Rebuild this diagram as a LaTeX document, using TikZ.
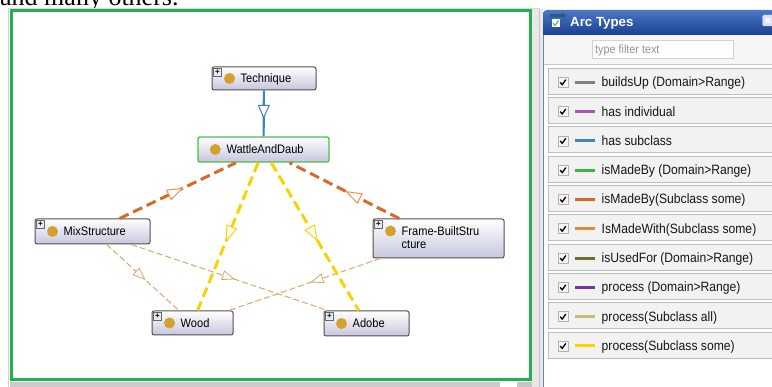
\documentclass[tikz,border=0pt]{standalone}
\usepackage{fontspec}
\setmainfont{Liberation Serif}
\newfontfamily\uifont[FakeStretch=0.9]{Liberation Sans}
\newfontfamily\uititle{Liberation Sans}
\usetikzlibrary{arrows.meta,decorations.markings,calc}
\definecolor{grn}{HTML}{22B14C}
\definecolor{nodebot}{HTML}{C6C6DE}
\definecolor{nodeborder}{HTML}{505050}
\definecolor{wadgreen}{HTML}{4DBE4D}
\definecolor{gold}{HTML}{D4A12E}
\definecolor{plusfill}{HTML}{E6ECF6}
\definecolor{cblue}{HTML}{3F80C0}
\definecolor{corange}{HTML}{D8692A}
\definecolor{corangetip}{HTML}{E8925A}
\definecolor{cyellow}{HTML}{F9D300}
\definecolor{cthin}{HTML}{E0A468}
\definecolor{cgrey}{HTML}{808080}
\definecolor{cmag}{HTML}{A855B5}
\definecolor{cblue2}{HTML}{4682BE}
\definecolor{cgreen}{HTML}{3DB83D}
\definecolor{corange2}{HTML}{D76428}
\definecolor{cmadewith}{HTML}{E08A3C}
\definecolor{colive}{HTML}{6E6E32}
\definecolor{cpurple}{HTML}{7337A0}
\definecolor{ckhaki}{HTML}{C3BE78}
\definecolor{cyel2}{HTML}{FFD200}
\definecolor{itemfill}{HTML}{F2F2F2}
\definecolor{itemborder}{HTML}{BDBDBD}
\definecolor{hdrtop}{HTML}{4A78C6}
\definecolor{hdrbot}{HTML}{1C3F90}
\definecolor{panelline}{HTML}{6F84B2}
\definecolor{textdark}{HTML}{161616}
\definecolor{iconteal}{HTML}{2A5A7A}
\tikzset{
  subtip/.tip={Triangle[length=14pt,width=12pt,line width=1pt,color=cblue,fill=white]},
  ortip/.tip={Triangle[length=17pt,width=11.5pt,line width=1pt,color=corangetip,fill=white]},
  yeltip/.tip={Triangle[length=17pt,width=11.5pt,line width=1pt,color=cyellow,fill=white]},
  thintip/.tip={Triangle[length=13pt,width=10pt,line width=0.8pt,color=cthin,fill=white]},
  headat/.style 2 args={postaction={decorate},decoration={markings,mark=at position #1 with {\arrow{#2}}}},
  cls/.style={draw=nodeborder,line width=1pt,rounded corners=2pt,top color=white,bottom color=nodebot,inner sep=0pt},
  goldc/.style={circle,fill=gold,minimum size=11pt,inner sep=0pt},
  lbl/.style={anchor=base west,inner sep=0pt,font=\uifont\fontsize{12.3}{14}\selectfont,text=black},
  plusbox/.style={draw=gray!80!black,fill=plusfill,minimum size=8pt,inner sep=0pt,line width=0.5pt,font=\uititle\bfseries\fontsize{8}{8}\selectfont},
  subcl/.style={draw=cblue,line width=2.2pt},
  orth/.style={draw=corange,line width=3pt,dash pattern=on 10pt off 5pt},
  yel/.style={draw=cyellow,line width=3pt,dash pattern=on 10pt off 5pt},
  thinor/.style={draw=cthin,line width=1pt,dash pattern=on 6pt off 3pt},
  itembox/.style={fill=itemfill,draw=itemborder,line width=0.8pt,minimum width=230pt,minimum height=26pt,inner sep=0pt,anchor=west},
  chk/.style={fill=itemfill!70!white,draw=gray!60,line width=0.6pt,minimum size=10pt,inner sep=0pt},
  itemtxt/.style={anchor=base west,inner sep=0pt,font=\uifont\fontsize{13.5}{15}\selectfont,text=textdark}
}
\newcommand\clsinside[3]{%
  \node[goldc] (#1-dot) at ($(#1.west)+(18,0)$) {};
  \node[lbl] (#1-lbl) at ($(#1.west)+(29,4.2)$) {#3};
  \ifnum#2=1 \node[plusbox] (#1-plus) at ($(#1.north west)+(6,6)$) {+};\fi
}
\begin{document}
\begin{tikzpicture}[x=1pt,y=-1pt]
\useasboundingbox (0,0) rectangle (772,387);
\clip (0,0) rectangle (772,387);
\fill[white] (0,0) rectangle (772,387);
% intro text
\node[anchor=base west,inner sep=0pt] (intro) at (0,5.5) {\fontsize{26}{26}\selectfont and many others.};
% left panel frame
\fill[gray!18] (532,9) rectangle (543,387);
\draw[gray!45,line width=0.8pt] (539,9) -- (539,387);
\draw[gray!35,line width=0.8pt] (8,9) -- (8,387);
\draw[gray!30,line width=0.8pt] (8,8.5) -- (540,8.5);
\fill[gray!40] (10,382) rectangle (500,387);
\fill[gray!45] (517,382) rectangle (532,387);
\draw[grn,line width=3pt] (11,10.5) rectangle (530.3,380);
% right panel
\draw[panelline,line width=1.5pt] (543.5,12) -- (543.5,387);
\fill[gray!8] (544.3,35) rectangle (772,64);
\draw[gray!45,line width=0.8pt] (544.3,64) -- (772,64);
\shade[top color=hdrtop,bottom color=hdrbot] (543,35) [rounded corners=4pt] |- (775,10) [sharp corners] -- (775,35) -- cycle;
\fill[white] (551.5,19) rectangle (559.5,27.5);
\draw[cgreen,line width=1pt] (553,23) -- (555,25.5) -- (558.5,20.5);
\draw[iconteal,line width=2.2pt,-{Triangle[length=4pt,width=6pt]}] (550,15.5) -- (566,15.5);
\node[anchor=base west,inner sep=0pt,text=white,font=\uititle\bfseries\fontsize{13.3}{15}\selectfont] (title) at (570,27) {Arc Types};
\node[fill=gray!35!blue!15,draw=white!80!blue,rounded corners=1.5pt,minimum size=11pt,inner sep=0pt] (close) at (768,20.5) {};
\draw[white,line width=1.2pt] ($(close.center)+(-2.5,-2.5)$) -- ($(close.center)+(2.5,2.5)$);
\draw[white,line width=1.2pt] ($(close.center)+(-2.5,2.5)$) -- ($(close.center)+(2.5,-2.5)$);
\node[fill=white,draw=gray!35,line width=0.8pt,minimum width=141pt,minimum height=18pt,inner sep=0pt,anchor=north west] (filter) at (592,40) {};
\node[anchor=base west,inner sep=0pt,text=gray!85,font=\uifont\fontsize{12}{14}\selectfont] (filtertxt) at (595,54) {type filter text};
\foreach \i/\c/\t [evaluate=\i as \yc using 81.3+29.3*\i] in {
  0/cgrey/{buildsUp (Domain>Range)},
  1/cmag/{has individual},
  2/cblue2/{has subclass},
  3/cgreen/{isMadeBy (Domain>Range)},
  4/corange2/{isMadeBy(Subclass some)},
  5/cmadewith/{IsMadeWith(Subclass some)},
  6/colive/{isUsedFor (Domain>Range)},
  7/cpurple/{process (Domain>Range)},
  8/ckhaki/{process(Subclass all)},
  9/cyel2/{process(Subclass some)}}{
  \node[itembox] (item\i) at (548,\yc) {};
  \node[chk] (chk\i) at (563,\yc+1) {};
  \draw[black,line width=1.3pt] ($(chk\i.center)+(-2.8,0)$) -- ($(chk\i.center)+(-0.8,2.4)$) -- ($(chk\i.center)+(2.8,-2.6)$);
  \draw[\c,line width=3pt] (575,\yc+1) -- (595,\yc+1);
  \node[itemtxt] (txt\i) at (601.5,\yc+5.5) {\t};
}
% class nodes
\node[cls,minimum width=104pt,minimum height=23pt] (tech) at (264,78.5) {};
\node[cls,draw=wadgreen,line width=1.4pt,minimum width=131pt,minimum height=25pt] (wad) at (263.5,149.5) {};
\node[cls,minimum width=115pt,minimum height=25pt] (mix) at (92.5,231.5) {};
\node[cls,minimum width=131pt,minimum height=39pt] (frame) at (438.5,238.5) {};
\node[cls,minimum width=81pt,minimum height=24pt] (wood) at (192.5,323) {};
\node[cls,minimum width=85pt,minimum height=25pt] (adobe) at (366.5,323.5) {};
\clsinside{tech}{1}{Technique}
\clsinside{wad}{0}{WattleAndDaub}
\clsinside{mix}{1}{MixStructure}
\clsinside{wood}{1}{Wood}
\clsinside{adobe}{1}{Adobe}
\node[goldc] (frame-dot) at ($(frame.north west)+(18,12.5)$) {};
\node[lbl] (frame-lbl) at ($(frame.north west)+(29,16.7)$) {Frame-BuiltStru};
\node[lbl] (frame-lbl2) at ($(frame.north west)+(29,30.2)$) {cture};
\node[plusbox] (frame-plus) at ($(frame.north west)+(6,6)$) {+};
% connectors
\draw[thinor] (mix) -- (wood);
\draw[thinor] (mix) -- (adobe);
\draw[thinor] (frame) -- (wood);
\draw[subcl] (tech) -- (wad);
\draw[yel] (wad) -- (wood);
\draw[yel] (wad) -- (adobe);
\draw[orth] (mix) -- (wad);
\draw[orth] (frame) -- (wad);
% arrowheads
\path[headat={0.53}{thintip}] (mix.center) -- (wood.center);
\path[headat={0.52}{thintip}] (mix.center) -- (adobe.center);
\path[headat={0.52}{thintip}] (frame.center) -- (wood.center);
\path[headat={0.57}{subtip}] (tech.center) -- (wad.center);
\path[headat={0.535}{yeltip}] (wad.center) -- (wood.center);
\path[headat={0.53}{yeltip}] (wad.center) -- (adobe.center);
\path[headat={0.534}{ortip}] (mix.center) -- (wad.center);
\path[headat={0.534}{ortip}] (frame.center) -- (wad.center);
\end{tikzpicture}
\end{document}
